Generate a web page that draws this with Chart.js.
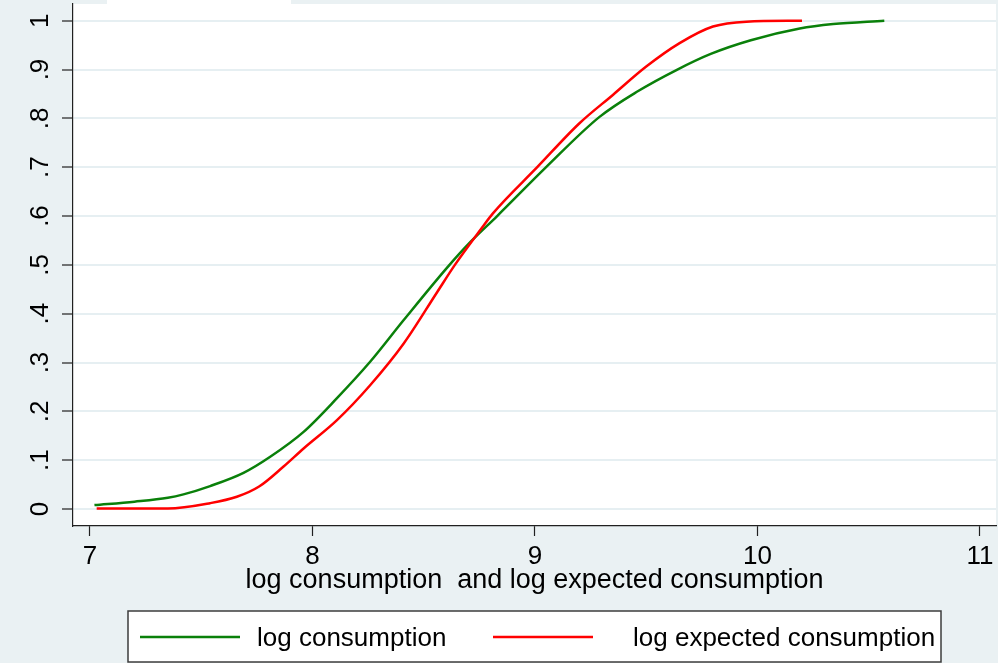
<!DOCTYPE html>
<html lang="en">
<head>
  <meta charset="UTF-8" />
  <title>log consumption CDF</title>
  <script src="https://cdn.jsdelivr.net/npm/chart.js"></script>
  <style>
    html, body { margin: 0; padding: 0; background: #eaf1f3; }
    #wrap { width: 998px; height: 663px; }
  </style>
</head>
<body>
  <div id="wrap"><canvas id="cdfChart" width="998" height="663"></canvas></div>

  <script>
    // values
    const consX = [7.02, 7.2, 7.35, 7.42, 7.54, 7.69, 7.81, 7.96, 8.11, 8.26, 8.41, 8.61, 8.71, 8.83, 9.05, 9.29, 9.46, 9.64, 9.79, 9.97, 10.19, 10.34, 10.57];
    const consY = [0.008, 0.015, 0.023, 0.030, 0.047, 0.074, 0.107, 0.158, 0.227, 0.302, 0.387, 0.497, 0.547, 0.600, 0.700, 0.803, 0.855, 0.900, 0.932, 0.960, 0.984, 0.993, 1.0];

    const expX = [7.03, 7.35, 7.54, 7.66, 7.76, 7.87, 7.96, 8.11, 8.26, 8.41, 8.56, 8.64, 8.76, 8.81, 9.01, 9.20, 9.35, 9.50, 9.65, 9.80, 9.95, 10.20];
    const expY = [0.001, 0.001, 0.012, 0.025, 0.046, 0.087, 0.124, 0.182, 0.254, 0.339, 0.444, 0.500, 0.575, 0.605, 0.700, 0.790, 0.848, 0.906, 0.954, 0.988, 0.998, 1.0];

    const xTicks = [7, 8, 9, 10, 11];
    const xTickLabels = ['7', '8', '9', '10', '11'];
    const yTicks = [0, 0.1, 0.2, 0.3, 0.4, 0.5, 0.6, 0.7, 0.8, 0.9, 1];
    const yTickLabels = ['0', '.1', '.2', '.3', '.4', '.5', '.6', '.7', '.8', '.9', '1'];

    const seriesNames = ['log consumption', 'log expected consumption'];
    const seriesColors = ['#0a800a', '#ff0000'];
    const xTitle = 'log consumption  and log expected consumption';

    const FONT = 'Liberation Sans, Arial, sans-serif';

    function toPoints(xs, ys) {
      return xs.map((x, i) => ({ x: x, y: ys[i] }));
    }

    // white plot region on the bluish graph region
    const plotBg = {
      id: 'plotBg',
      beforeDraw(chart) {
        const { ctx, chartArea: a } = chart;
        ctx.save();
        ctx.fillStyle = '#ffffff';
        ctx.fillRect(a.left, a.top, a.right - a.left, a.bottom - a.top);
        ctx.fillRect(107, 0, 184, a.top);
        ctx.restore();
      }
    };

    // framed legend, Stata style
    const boxLegend = {
      id: 'boxLegend',
      afterDraw(chart) {
        const ctx = chart.ctx;
        ctx.save();
        ctx.fillStyle = '#ffffff';
        ctx.fillRect(128, 611, 813, 51);
        ctx.strokeStyle = '#3c3c3c';
        ctx.lineWidth = 1.5;
        ctx.strokeRect(128, 611, 813, 51);

        const lineStart = [140, 493];
        const textStart = [257, 633];
        ctx.font = '26px ' + FONT;
        ctx.textBaseline = 'alphabetic';
        ctx.textAlign = 'left';
        for (let i = 0; i < seriesNames.length; i++) {
          ctx.strokeStyle = seriesColors[i];
          ctx.lineWidth = 2.5;
          ctx.beginPath();
          ctx.moveTo(lineStart[i], 637);
          ctx.lineTo(lineStart[i] + 100, 637);
          ctx.stroke();
          ctx.fillStyle = '#000000';
          ctx.fillText(seriesNames[i], textStart[i], 646);
        }
        ctx.restore();
      }
    };

    new Chart(document.getElementById('cdfChart'), {
      type: 'scatter',
      data: {
        datasets: [
          {
            label: seriesNames[0],
            data: toPoints(consX, consY),
            borderColor: seriesColors[0],
            backgroundColor: seriesColors[0],
            borderWidth: 2.5,
            showLine: true,
            pointRadius: 0,
            cubicInterpolationMode: 'monotone',
            order: 2
          },
          {
            label: seriesNames[1],
            data: toPoints(expX, expY),
            borderColor: seriesColors[1],
            backgroundColor: seriesColors[1],
            borderWidth: 2.5,
            showLine: true,
            pointRadius: 0,
            cubicInterpolationMode: 'monotone',
            order: 1
          }
        ]
      },
      options: {
        responsive: false,
        animation: false,
        layout: { padding: { top: 4, right: 2, bottom: 58, left: 0 } },
        plugins: {
          legend: { display: false },
          tooltip: { enabled: false }
        },
        scales: {
          x: {
            type: 'linear',
            min: 6.9236,
            max: 11.072,
            afterBuildTicks(scale) { scale.ticks = xTicks.map(v => ({ value: v })); },
            afterFit(scale) {
              scale.height = 79;
              scale.paddingLeft = 0;
              scale.paddingRight = 0;
            },
            border: { display: true, color: '#202020', width: 1.2 },
            grid: { drawOnChartArea: false, drawTicks: true, tickLength: 10, tickColor: '#202020', tickWidth: 1.2 },
            ticks: {
              autoSkip: false,
              maxRotation: 0,
              padding: 5,
              color: '#000000',
              font: { family: FONT, size: 26 },
              callback: (v, i) => xTickLabels[i]
            },
            title: {
              display: true,
              text: xTitle,
              color: '#000000',
              font: { family: FONT, size: 27 },
              padding: { top: 0, bottom: 8 }
            }
          },
          y: {
            type: 'linear',
            min: -0.0348,
            max: 1.0342,
            afterBuildTicks(scale) { scale.ticks = yTicks.map(v => ({ value: v })); },
            afterFit(scale) {
              scale.width = 73;
              scale.paddingTop = 0;
              scale.paddingBottom = 0;
            },
            border: { display: true, color: '#202020', width: 1.2 },
            grid: { color: '#e6eff2', lineWidth: 2, drawTicks: true, tickLength: 11, tickColor: '#202020', tickWidth: 1.2 },
            ticks: {
              autoSkip: false,
              minRotation: 90,
              maxRotation: 90,
              crossAlign: 'center',
              padding: 10,
              color: '#000000',
              font: { family: FONT, size: 26 },
              callback: (v, i) => yTickLabels[i]
            }
          }
        }
      },
      plugins: [plotBg, boxLegend]
    });
  </script>
</body>
</html>
